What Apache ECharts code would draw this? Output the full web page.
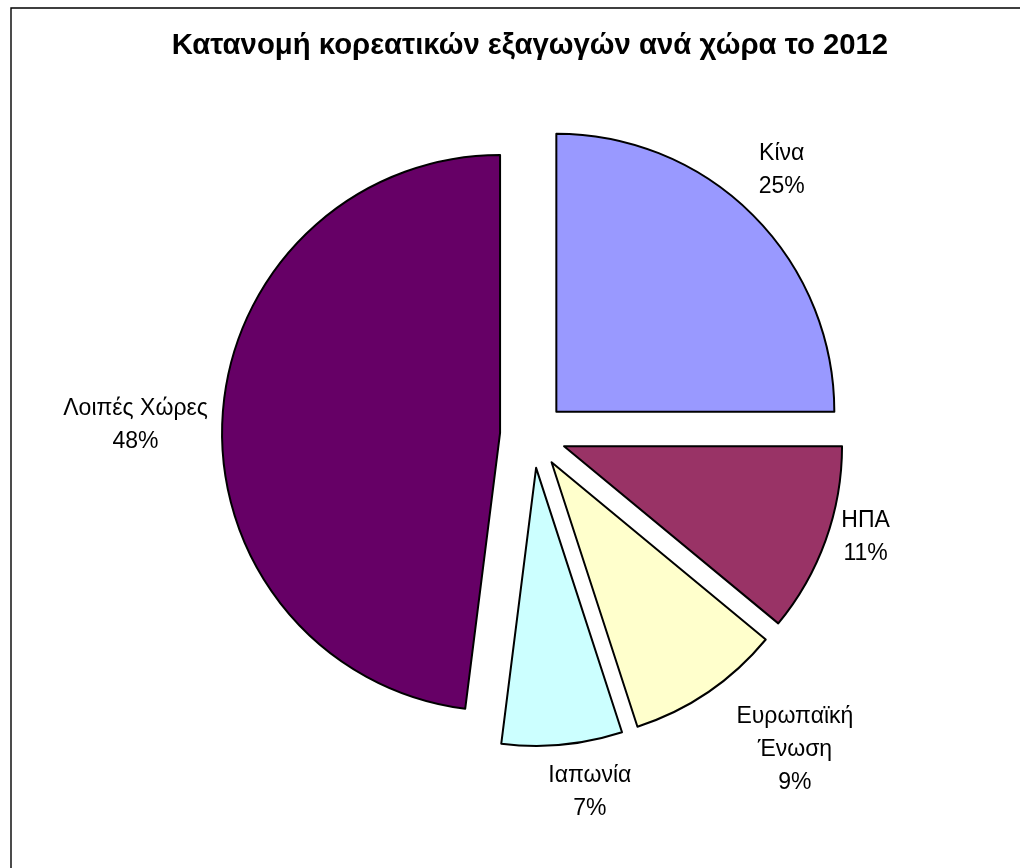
<!DOCTYPE html>
<html><head><meta charset="utf-8">
<script src="https://cdn.jsdelivr.net/npm/echarts@6/dist/echarts.min.js"></script>
<style>html,body{margin:0;padding:0;background:#fff}#c{width:1020px;height:868px}</style>
</head><body><div id="c"></div>
<script>
const categories = ['Κίνα', 'ΗΠΑ', 'Ευρωπαϊκή Ένωση', 'Ιαπωνία', 'Λοιπές Χώρες'];
const values = [25, 11, 9, 7, 48];
const colors = ['#9999FF', '#993366', '#FFFFCC', '#CCFFFF', '#660066'];
const titleText = 'Κατανομή κορεατικών εξαγωγών ανά χώρα το 2012';

// layout / style constants (not data)
const CX = 533, CY = 435, R = 278, OFFSET = 33;
const lineLen  = [64, -8, 69, 48, -152];
const lineLen2 = [-96.5, -32.5, -31.7, -57, 158.8];

const chart = echarts.init(document.getElementById('c'), null, {renderer: 'canvas'});
chart.setOption({
  animation: false,
  backgroundColor: '#ffffff',
  title: {
    text: titleText,
    left: 525,
    textAlign: 'center',
    top: 26,
    textStyle: {fontFamily: 'Liberation Sans', fontWeight: 'bold', fontSize: 29.3, color: '#000'}
  },
  graphic: [{
    type: 'rect', silent: true,
    shape: {x: 11, y: 8, width: 1100, height: 1000},
    style: {fill: 'none', stroke: '#000', lineWidth: 1.4}
  }],
  series: [{
    type: 'pie',
    center: [CX, CY],
    radius: [0, R],
    startAngle: 90,
    clockwise: true,
    selectedMode: 'multiple',
    selectedOffset: OFFSET,
    avoidLabelOverlap: false,
    emphasis: {disabled: true},
    itemStyle: {borderColor: '#000', borderWidth: 2},
    select: {itemStyle: {borderColor: '#000', borderWidth: 2}},
    label: {
      show: true,
      position: 'outside',
      width: 150,
      formatter: p => {
        const name = p.name.length > 13 ? p.name.replace(' ', '}\n{c|') : p.name;
        return '{c|' + name + '}\n{c|' + Math.round(p.percent) + '%}';
      },
      rich: {
        c: {align: 'center', fontFamily: 'Liberation Sans', fontSize: 23, lineHeight: 33, color: '#000'}
      }
    },
    labelLine: {show: false},
    data: categories.map((n, i) => ({
      name: n, value: values[i], selected: true,
      itemStyle: {color: colors[i]},
      select: {itemStyle: {color: colors[i]}},
      labelLine: {show: false, length: lineLen[i], length2: lineLen2[i]}
    }))
  }]
});
</script>
</body></html>
